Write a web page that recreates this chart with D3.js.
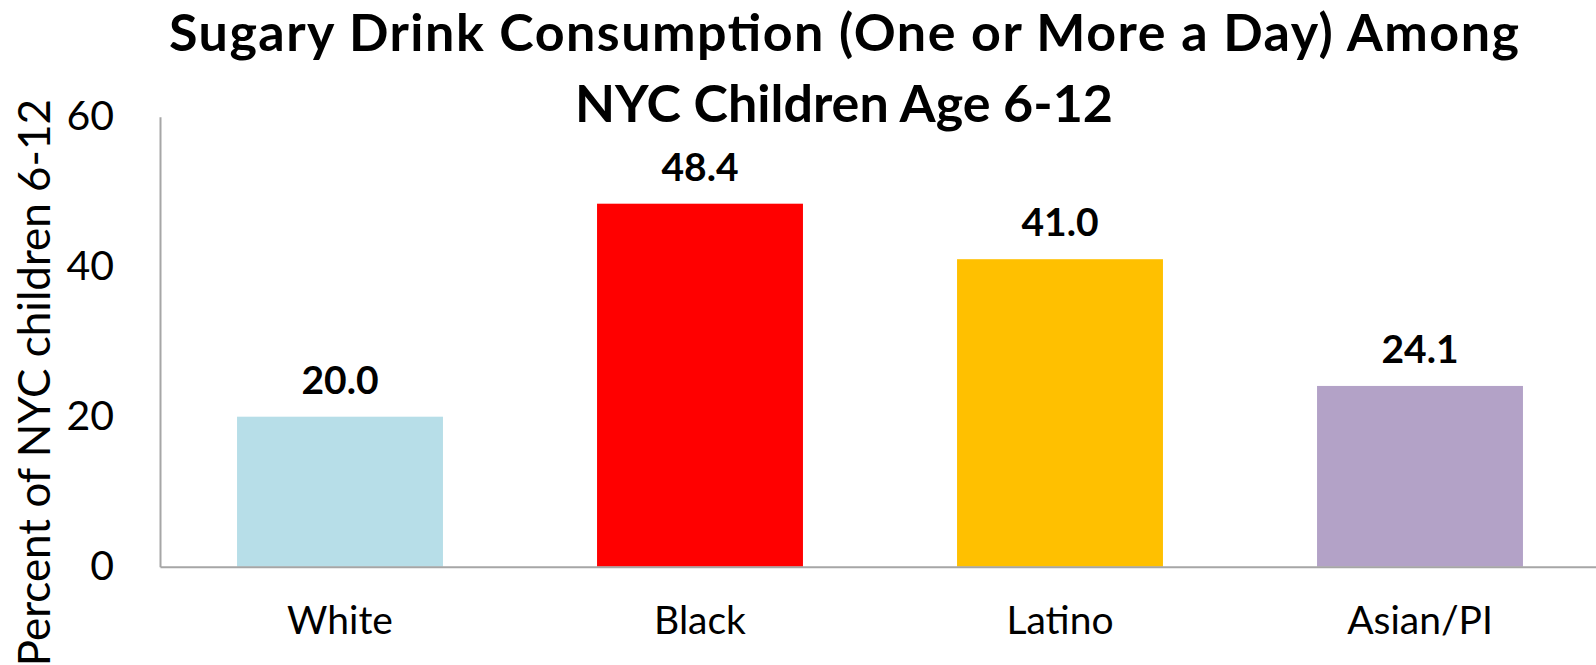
<!DOCTYPE html>
<html>
<head>
<meta charset="utf-8">
<script src="https://cdn.jsdelivr.net/npm/d3@7"></script>
<style>
  html, body { margin: 0; padding: 0; background: #fff; overflow: hidden; }
  svg { display: block; }
</style>
</head>
<body>
<div id="chart"></div>
<script>
// chart data
const categories = ["White", "Black", "Latino", "Asian/PI"];
const values = [20.0, 48.4, 41.0, 24.1];
const barColors = ["#B7DEE8", "#FF0000", "#FFC000", "#B3A2C7"];
const yTicks = [0, 20, 40, 60];
const titleLines = ["Sugary Drink Consumption (One or More a Day) Among", "NYC Children Age 6-12"];
const yTitle = "Percent of NYC children 6-12";

const width = 1596;
const height = 665;
const font = "Lato, 'Open Sans', sans-serif";

const svg = d3.select("#chart").append("svg")
    .attr("width", width)
    .attr("height", height)
    .attr("font-family", font);

// plot area
const plotLeft = 160, plotRight = 1600, plotBottom = 566.7, plotTop = 116.7;

const x = d3.scaleBand()
    .domain(categories)
    .range([plotLeft, plotRight])
    .paddingInner(0.428)
    .paddingOuter(0.214);

const y = d3.scaleLinear()
    .domain([0, 60])
    .range([plotBottom, plotTop]);

// bars
svg.append("g")
    .selectAll("rect")
    .data(values)
    .join("rect")
    .attr("x", (d, i) => x(categories[i]))
    .attr("y", d => y(d))
    .attr("width", x.bandwidth())
    .attr("height", d => y(0) - y(d))
    .attr("fill", (d, i) => barColors[i]);

// value labels
svg.append("g")
    .selectAll("text")
    .data(values)
    .join("text")
    .attr("x", (d, i) => x(categories[i]) + x.bandwidth() / 2)
    .attr("y", d => y(d) - 23)
    .attr("text-anchor", "middle")
    .attr("font-weight", "bold")
    .attr("font-size", 39)
    .attr("fill", "#000")
    .text(d => d.toFixed(1));

// y axis
const yAxis = svg.append("g")
    .attr("transform", `translate(${plotLeft},0)`)
    .call(d3.axisLeft(y).tickValues(yTicks).tickSize(0).tickPadding(46));
yAxis.select(".domain").attr("stroke", "#A6A6A6").attr("stroke-width", 2);
yAxis.selectAll("text")
    .attr("font-family", font)
    .attr("font-size", 41)
    .attr("fill", "#000");

// x axis
const xAxis = svg.append("g")
    .attr("transform", `translate(0,${plotBottom})`)
    .call(d3.axisBottom(x).tickSize(0).tickPadding(40));
xAxis.select(".domain").attr("stroke", "#A6A6A6").attr("stroke-width", 2);
xAxis.selectAll("text")
    .attr("font-family", font)
    .attr("font-size", 39)
    .attr("fill", "#000");

// y title
svg.append("text")
    .attr("transform", "translate(50,99) rotate(-90)")
    .attr("text-anchor", "end")
    .attr("font-size", 44)
    .attr("fill", "#000")
    .text(yTitle);

// chart title
const titleWidths = [1350, null];
svg.append("g")
    .selectAll("text")
    .data(titleLines)
    .join("text")
    .attr("x", 844)
    .attr("y", (d, i) => 51 + i * 71)
    .attr("text-anchor", "middle")
    .attr("font-weight", "bold")
    .attr("font-size", 52)
    .attr("fill", "#000")
    .attr("textLength", (d, i) => titleWidths[i])
    .attr("lengthAdjust", "spacing")
    .text(d => d);
</script>
</body>
</html>
